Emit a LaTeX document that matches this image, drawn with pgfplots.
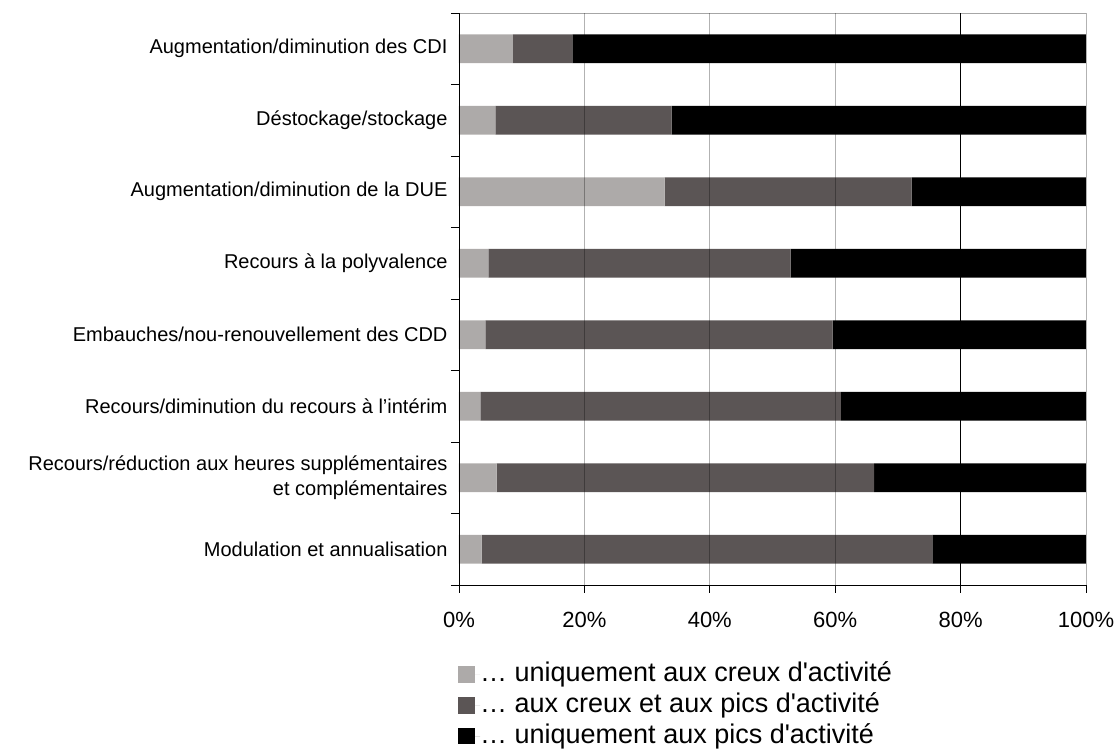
\documentclass[border=0pt]{standalone}
\usepackage{pgfplots}
\pgfplotsset{compat=1.18}
\usepackage{pgfplotstable}
\usepackage{fontspec}
\newfontfamily\arial{Liberation Sans}
\definecolor{clight}{RGB}{173,170,169}
\definecolor{cdark}{RGB}{91,85,85}
\pgfplotstableread{
y a b c
0 3.6 71.9 24.5
1 6.0 60.2 33.8
2 3.4 57.5 39.1
3 4.2 55.4 40.4
4 4.7 48.2 47.1
5 32.8 39.4 27.8
6 5.8 28.1 66.1
7 8.6 9.5 81.9
}\datatable
\begin{document}
\arial
\begin{tikzpicture}
\begin{axis}[
  at={(0pt,0pt)}, anchor=south west,
  scale only axis, width=627pt, height=572pt,
  xbar stacked, bar width=28.7pt,
  xmin=0, xmax=100, ymin=-0.5, ymax=7.5,
  axis lines*=left,
  axis line style={black, line width=0.9pt},
  axis on top,
  tick align=outside,
  major tick length=8pt,
  tick style={black, line width=0.9pt},
  xtick={0,20,40,60,100},
  xticklabels={0\%,20\%,40\%,60\%,100\%},
  extra x ticks={80},
  extra x tick labels={80\%},
  extra x tick style={grid=major, grid style={black, opacity=1, line width=0.9pt}},
  xmajorgrids,
  grid style={black, opacity=0.3, line width=0.9pt},
  xticklabel style={font=\fontsize{22}{26}\selectfont, yshift=-16pt},
  ytick={-0.5,0.5,...,7.5},
  yticklabels={Modulation et annualisation,
    {Recours/réduction aux heures supplémentaires\\et complémentaires\ },
    Recours/diminution du recours à l’intérim,
    Embauches/nou-renouvellement des CDD,
    Recours à la polyvalence,
    Augmentation/diminution de la DUE,
    Déstockage/stockage,
    Augmentation/diminution des CDI,
    {}},
  yticklabel style={yshift=35.75pt, align=right, font=\fontsize{20}{24.5}\selectfont},
  extra y ticks={7.5},
  extra y tick labels={},
  extra y tick style={grid=major, grid style={black, opacity=0.35, line width=0.9pt}, major tick length=0pt},
  legend style={at={(0,0)}, anchor=north west, xshift=-1pt, yshift=-76.5pt,
    draw=none, fill=none, font=\fontsize{27}{30}\selectfont, row sep=4.8pt,
    inner sep=0pt, nodes={inner sep=0pt, text height=20pt, text depth=6pt}},
  legend cell align=left,
  legend image code/.code={\fill[#1] (0pt,-8.2pt) rectangle (16.5pt,8.2pt); \path (0pt,0pt) -- (22pt,0pt);},
]
\addplot[fill=clight, draw=none] table[x=a, y=y] {\datatable};
\addplot[fill=cdark, draw=none] table[x=b, y=y] {\datatable};
\addplot[fill=black, draw=none] table[x=c, y=y] {\datatable};
\legend{… uniquement aux creux d'activité, … aux creux et aux pics d'activité, … uniquement aux pics d'activité}
\end{axis}
\pgfresetboundingbox
\path[use as bounding box] (-459pt,-164pt) rectangle (658pt,585pt);
\end{tikzpicture}
\end{document}
